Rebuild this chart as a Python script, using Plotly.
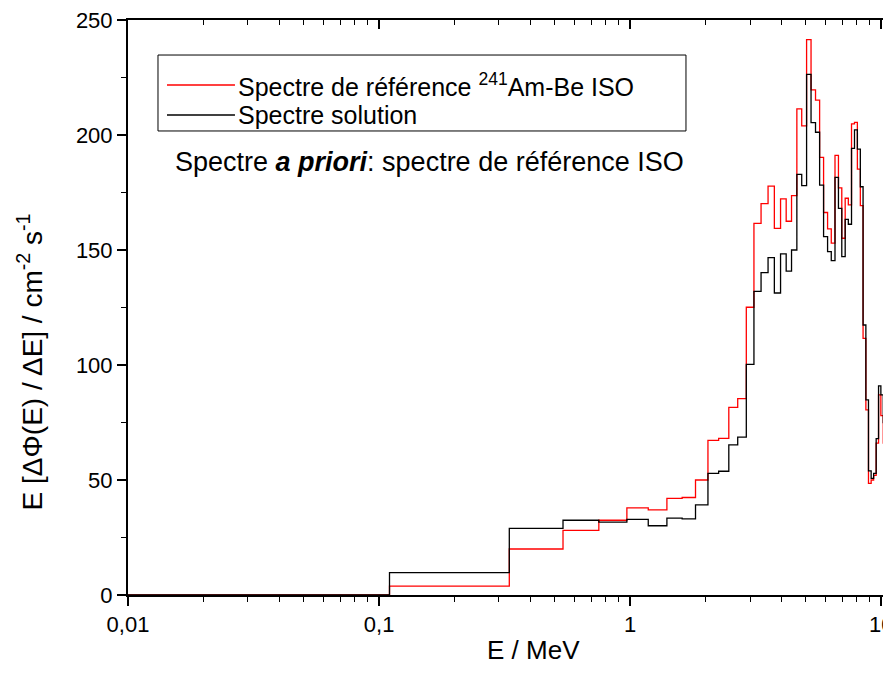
import plotly.graph_objects as go

# ISO 8529 Am-Be energy bin lower edges (MeV) + last upper edge
edges = [4.14e-7, 0.11, 0.33, 0.54, 0.75, 0.97, 1.18, 1.40, 1.61, 1.82, 2.04, 2.25, 2.47,
         2.68, 2.90, 3.11, 3.32, 3.54, 3.75, 3.97, 4.18, 4.39, 4.61, 4.82, 5.04, 5.25,
         5.47, 5.68, 5.89, 6.11, 6.32, 6.54, 6.75, 6.96, 7.18, 7.39, 7.61, 7.82, 8.03,
         8.25, 8.46, 8.68, 8.89, 9.11, 9.32, 9.54, 9.75, 9.96, 10.18, 10.39, 10.61,
         10.82, 11.03]

# E*dPhi/dE per bin, reference ISO spectrum (red)
ref_vals = [0.0, 3.9, 20.0, 28.1, 32.5, 37.9, 37.0, 42.0, 42.4, 50.0, 67.2, 68.1, 81.6,
            85.4, 125.1, 161.6, 170.2, 177.8, 159.4, 172.2, 162.5, 173.6, 211.4, 204.0,
            241.5, 219.6, 215.2, 190.3, 166.3, 159.2, 153.0, 191.1, 177.0, 155.1, 172.5,
            169.6, 204.8, 205.5, 185.2, 169.3, 111.6, 80.5, 48.5, 50.0, 52.0, 66.0, 87.0,
            78.0, 66.0, 54.0, 45.0, 24.0]

# solution spectrum (black)
sol_vals = [0.0, 9.7, 29.0, 32.5, 31.7, 32.9, 30.1, 33.4, 33.1, 39.2, 52.9, 53.8, 65.3,
            68.6, 100.3, 132.0, 140.2, 146.7, 131.3, 148.3, 140.8, 150.0, 182.9, 178.0,
            226.4, 205.4, 201.2, 178.2, 155.8, 149.3, 145.4, 181.6, 168.1, 147.1, 163.3,
            161.2, 194.2, 202.2, 193.9, 177.5, 117.4, 84.8, 54.0, 50.7, 52.9, 68.0, 90.9,
            87.0, 75.0, 60.0, 48.0, 28.0]

series_names = ["Spectre de référence <sup>241</sup>Am-Be ISO", "Spectre solution"]
series_colors = ["#ff0000", "#000000"]

x_tickvals = [0.01, 0.1, 1, 10]
x_ticktext = ["0,01", "0,1", "1", "10"]
y_tickvals = [0, 50, 100, 150, 200, 250]
minor_x = [m * d for d in (0.01, 0.1, 1, 10) for m in range(2, 10)]

def steps(vals):
    return edges, vals + [vals[-1]]

FONT = "Liberation Sans, Arial, sans-serif"
xr = [-2, 1.0386]

fig = go.Figure()
for vals, name, col in zip((ref_vals, sol_vals), series_names, series_colors):
    xs, ys = steps(vals)
    fig.add_trace(go.Scatter(x=xs, y=ys, mode="lines", line=dict(shape="hv", color=col, width=1.3),
                             name=name, showlegend=False))
# invisible trace for top axis
fig.add_trace(go.Scatter(x=[0.01], y=[0], xaxis="x2", mode="markers", marker=dict(opacity=0),
                         showlegend=False, hoverinfo="skip"))

fig.update_layout(
    width=891, height=675,
    margin=dict(l=120, r=8, t=12, b=88),
    paper_bgcolor="white", plot_bgcolor="white",
    font=dict(family=FONT, color="black", size=22),
    showlegend=False,
    xaxis=dict(type="log", range=xr, tickmode="array", tickvals=x_tickvals, ticktext=x_ticktext,
               ticks="outside", ticklen=9, tickwidth=1.5, tickcolor="black", automargin=False,
               showline=True, linecolor="black", linewidth=2, showgrid=False, zeroline=False,
               tickfont=dict(size=22), ticklabeloverflow="allow",
               minor=dict(tickmode="array", tickvals=minor_x, ticks="outside", ticklen=5,
                          tickwidth=1.3, tickcolor="black", showgrid=False)),
    xaxis2=dict(type="log", range=xr, overlaying="x", side="top", tickmode="array",
                tickvals=x_tickvals, ticks="inside", ticklen=9, tickwidth=1.5, tickcolor="black",
                showticklabels=False, showline=True, linecolor="black", linewidth=2,
                showgrid=False, zeroline=False, automargin=False,
                minor=dict(tickmode="array", tickvals=minor_x, ticks="inside", ticklen=5,
                           tickwidth=1.3, tickcolor="black", showgrid=False)),
    yaxis=dict(range=[0, 250], tickmode="array", tickvals=y_tickvals, automargin=False,
               ticks="outside", ticklen=9, tickwidth=1.5, tickcolor="black",
               showline=True, linecolor="black", linewidth=2, showgrid=False, zeroline=False,
               tickfont=dict(size=22), ticklabeloverflow="allow",
               minor=dict(dtick=25, ticks="outside", ticklen=5, tickwidth=1.3,
                          tickcolor="black", showgrid=False)),
)

# legend box (drawn in paper coordinates)
fig.add_shape(type="rect", xref="paper", yref="paper", x0=0.0393, x1=0.7313, y0=0.807, y1=0.9391,
              line=dict(color="black", width=1), fillcolor="rgba(0,0,0,0)", layer="above")
for i, (name, col) in enumerate(zip(series_names, series_colors)):
    yy = 0.8870 - i * 0.0522
    fig.add_shape(type="line", xref="paper", yref="paper", x0=0.0511, x1=0.1402, y0=yy, y1=yy,
                  line=dict(color=col, width=1.3))
    fig.add_annotation(text=name, xref="paper", yref="paper", x=0.1429, y=yy,
                       xanchor="left", yanchor="middle", showarrow=False, borderpad=0,
                       font=dict(size=25, family=FONT))

fig.add_annotation(text="Spectre <b><i>a priori</i></b>: spectre de référence ISO",
                   xref="paper", yref="paper", x=0.059, y=0.753, xanchor="left", yanchor="middle",
                   showarrow=False, font=dict(size=27, family=FONT))
fig.add_annotation(text="E / MeV", xref="paper", yref="paper", x=0.531, y=-0.096,
                   xanchor="center", yanchor="middle", showarrow=False,
                   font=dict(size=26, family=FONT))
fig.add_annotation(text="E [ΔΦ(E) / ΔE] / cm<sup>-2</sup> s<sup>-1</sup>", xref="paper", yref="paper",
                   x=-0.128, y=0.405, xanchor="center", yanchor="middle", textangle=-90,
                   showarrow=False, font=dict(size=28, family=FONT))

fig.write_html("out.html")
